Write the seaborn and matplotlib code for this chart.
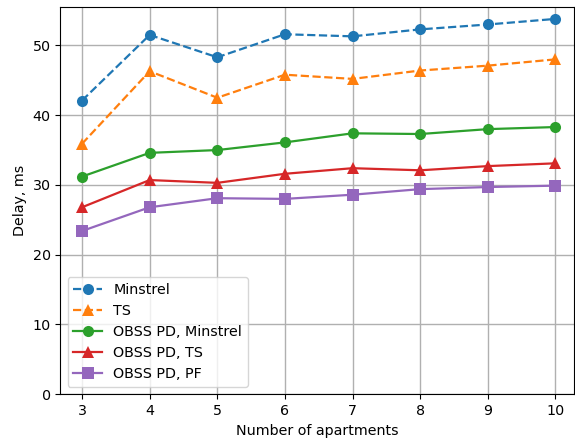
import numpy as np
import pandas as pd
import seaborn as sns
import matplotlib.pyplot as plt

apartments = [3, 4, 5, 6, 7, 8, 9, 10]
minstrel = [42.1, 51.5, 48.3, 51.6, 51.3, 52.3, 53.0, 53.8]
ts = [35.9, 46.3, 42.5, 45.8, 45.2, 46.4, 47.1, 48.0]
obss_minstrel = [31.2, 34.6, 35.0, 36.1, 37.4, 37.3, 38.0, 38.3]
obss_ts = [26.8, 30.7, 30.3, 31.6, 32.4, 32.1, 32.7, 33.1]
obss_pf = [23.4, 26.8, 28.1, 28.0, 28.6, 29.4, 29.7, 29.9]

series = [
    ('Minstrel', minstrel, 'o', '--', 'tab:blue'),
    ('TS', ts, '^', '--', 'tab:orange'),
    ('OBSS PD, Minstrel', obss_minstrel, 'o', '-', 'tab:green'),
    ('OBSS PD, TS', obss_ts, '^', '-', 'tab:red'),
    ('OBSS PD, PF', obss_pf, 's', '-', 'tab:purple'),
]

plt.rcParams['font.size'] = 10.3

fig, ax = plt.subplots(figsize=(5.75, 4.4), dpi=100)

for name, vals, marker, ls, color in series:
    df = pd.DataFrame({'x': apartments, 'y': vals})
    sns.lineplot(x='x', y='y', data=df, ax=ax, label=name, marker=marker,
                 linestyle=ls, color=color, markersize=8, markeredgewidth=0,
                 linewidth=1.6)

ax.set_xlim(2.68, 10.28)
ax.set_ylim(0, 55.5)
ax.set_xticks(apartments)
ax.set_yticks([0, 10, 20, 30, 40, 50])
ax.grid(True, color='#b0b0b0', linewidth=1)
ax.set_axisbelow(True)
ax.set_xlabel('Number of apartments')
ax.set_ylabel('Delay, ms')
ax.legend(loc='lower left')

fig.subplots_adjust(left=0.105, right=0.999, top=0.984, bottom=0.104)
fig.savefig('out.png', dpi=100)
